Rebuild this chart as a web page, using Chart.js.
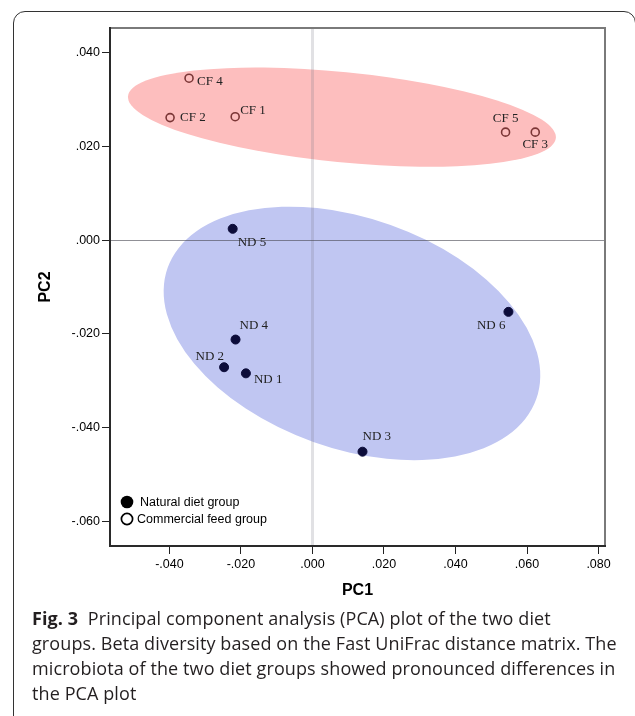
<!DOCTYPE html>
<html>
<head>
<meta charset="utf-8">
<script src="https://cdn.jsdelivr.net/npm/chart.js@4"></script>
<style>
  html, body { margin: 0; padding: 0; background: #fff; }
  body { width: 635px; height: 716px; position: relative; overflow: hidden; }
  #frame { position: absolute; left: 13px; top: 11px; width: 623px; height: 760px;
           border: 1.5px solid #333; border-radius: 12px; box-sizing: border-box; }
  #wrap { position: absolute; left: 0; top: 0; width: 635px; height: 620px; }
  #caption { position: absolute; left: 32px; top: 606px; font-family: "Open Sans", sans-serif;
             font-size: 18px; line-height: 25px; color: #231f20; letter-spacing: 0.1px; }
  #caption div { white-space: nowrap; }
</style>
</head>
<body>
<div id="frame"></div>
<div id="wrap"><canvas id="chart" width="635" height="620"></canvas></div>
<div id="caption">
  <div><b>Fig. 3</b>&nbsp; Principal component analysis (PCA) plot of the two diet</div>
  <div>groups. Beta diversity based on the Fast UniFrac distance matrix. The</div>
  <div>microbiota of the two diet groups showed pronounced differences in</div>
  <div>the PCA plot</div>
</div>
<script>
// sample scores
const ndLabels = ['ND 1', 'ND 2', 'ND 3', 'ND 4', 'ND 5', 'ND 6'];
const ndPC1 = [-0.0186, -0.0247, 0.0140, -0.0215, -0.0223, 0.0548];
const ndPC2 = [-0.0284, -0.0271, -0.0451, -0.0212, 0.0024, -0.0153];

const cfLabels = ['CF 1', 'CF 2', 'CF 3', 'CF 4', 'CF 5'];
const cfPC1 = [-0.0216, -0.0398, 0.0623, -0.0345, 0.0540];
const cfPC2 = [0.0263, 0.0261, 0.0230, 0.0345, 0.0230];

const xTicks = [-0.04, -0.02, 0, 0.02, 0.04, 0.06, 0.08];
const yTicks = [-0.06, -0.04, -0.02, 0, 0.02, 0.04];

// group ellipses (data units, angle in degrees)
const ndEllipse = { cx: 0.01105, cy: -0.0199, rx: 0.0547, ry: 0.02454, angle: 19.6 };
const cfEllipse = { cx: 0.00825, cy: 0.0262, rx: 0.0601, ry: 0.00962, angle: 5.6 };

// where each label sits next to its point
const ndPlace = [[8, 6, 'left'], [0, -11, 'right'], [0, -15, 'left'], [4, -14, 'left'], [5, 14, 'left'], [-3, 14, 'right']];
const cfPlace = [[5, -6, 'left'], [10, 0, 'left'], [0, 12, 'center'], [8, 3, 'left'], [0, -14, 'center']];

const fmt = v => (v < 0 ? '-' : '') + Math.abs(v).toFixed(3).replace(/^0/, '');

const toPoints = (xs, ys) => xs.map((x, i) => ({ x: x, y: ys[i] }));

const ellipsePlugin = {
  id: 'ellipses',
  beforeDatasetsDraw(chart) {
    const { ctx, chartArea, scales: { x, y } } = chart;
    const pxX = Math.abs(x.getPixelForValue(1) - x.getPixelForValue(0));
    const pxY = Math.abs(y.getPixelForValue(1) - y.getPixelForValue(0));
    ctx.save();
    ctx.beginPath();
    ctx.rect(chartArea.left, chartArea.top, chartArea.width, chartArea.height);
    ctx.clip();
    [[cfEllipse, '#fdbebe'], [ndEllipse, '#c0c6f2']].forEach(([e, col]) => {
      ctx.beginPath();
      ctx.ellipse(x.getPixelForValue(e.cx), y.getPixelForValue(e.cy), e.rx * pxX, e.ry * pxY,
        e.angle * Math.PI / 180, 0, Math.PI * 2);
      ctx.fillStyle = col;
      ctx.fill();
    });
    // reference lines through the origin
    const x0 = Math.round(x.getPixelForValue(0)) + 0.5;
    const y0 = Math.round(y.getPixelForValue(0)) + 0.5;
    ctx.strokeStyle = 'rgba(120,120,130,0.22)';
    ctx.lineWidth = 3;
    ctx.beginPath();
    ctx.moveTo(x0, chartArea.top);
    ctx.lineTo(x0, chartArea.bottom);
    ctx.stroke();
    ctx.strokeStyle = 'rgba(70,70,80,0.6)';
    ctx.lineWidth = 1;
    ctx.beginPath();
    ctx.moveTo(chartArea.left, y0);
    ctx.lineTo(chartArea.right, y0);
    ctx.stroke();
    ctx.restore();
  },
  afterDraw(chart) {
    const { ctx, chartArea: a } = chart;
    ctx.save();
    // plot frame
    ctx.lineWidth = 2;
    ctx.strokeStyle = '#7a7a7a';
    ctx.beginPath();
    ctx.moveTo(a.left, a.top);
    ctx.lineTo(a.right, a.top);
    ctx.lineTo(a.right, a.bottom);
    ctx.stroke();
    ctx.strokeStyle = '#2a2a2a';
    ctx.beginPath();
    ctx.moveTo(a.left, a.top - 1);
    ctx.lineTo(a.left, a.bottom);
    ctx.lineTo(a.right + 1, a.bottom);
    ctx.stroke();

    // point labels
    ctx.font = '13px "Liberation Serif", serif';
    ctx.fillStyle = '#222';
    ctx.textBaseline = 'middle';
    const places = [ndPlace, cfPlace];
    chart.data.datasets.forEach((ds, di) => {
      chart.getDatasetMeta(di).data.forEach((pt, i) => {
        const p = places[di][i];
        ctx.textAlign = p[2];
        ctx.fillText(ds.names[i], pt.x + p[0], pt.y + p[1]);
      });
    });

    // legend
    ctx.font = '12.5px "Liberation Sans", Arial, sans-serif';
    ctx.fillStyle = '#000';
    ctx.textAlign = 'left';
    const lx = a.left + 17, ly = a.bottom - 44;
    ctx.beginPath();
    ctx.arc(lx, ly, 6.3, 0, Math.PI * 2);
    ctx.fill();
    ctx.fillText(chart.data.datasets[0].label, lx + 13, ly + 1);
    ctx.beginPath();
    ctx.arc(lx, ly + 17, 5.6, 0, Math.PI * 2);
    ctx.lineWidth = 1.7;
    ctx.strokeStyle = '#000';
    ctx.stroke();
    ctx.fillText(chart.data.datasets[1].label, lx + 10, ly + 18);
    ctx.restore();
  }
};

const tickFont = { family: '"Liberation Sans", Arial, sans-serif', size: 12.5 };
const titleFont = { family: '"Liberation Sans", Arial, sans-serif', size: 16, weight: 'bold' };

new Chart(document.getElementById('chart'), {
  type: 'scatter',
  data: {
    datasets: [
      {
        label: 'Natural diet group',
        names: ndLabels,
        data: toPoints(ndPC1, ndPC2),
        pointRadius: 4.5,
        backgroundColor: '#0c0c3a',
        borderColor: '#0c0c3a',
        borderWidth: 1
      },
      {
        label: 'Commercial feed group',
        names: cfLabels,
        data: toPoints(cfPC1, cfPC2),
        pointRadius: 4,
        backgroundColor: 'rgba(0,0,0,0)',
        borderColor: '#7b3636',
        borderWidth: 1.6
      }
    ]
  },
  options: {
    responsive: false,
    animation: false,
    layout: { padding: { left: 0, top: 28, right: 30, bottom: 0 } },
    plugins: { legend: { display: false }, tooltip: { enabled: false } },
    scales: {
      x: {
        min: -0.0566, max: 0.0818,
        afterBuildTicks: s => { s.ticks = xTicks.map(v => ({ value: v })); },
        afterFit: s => { s.height = 74; },
        ticks: { callback: fmt, color: '#000', font: tickFont, padding: 3, maxRotation: 0 },
        grid: { drawOnChartArea: false, drawTicks: true, tickLength: 8, tickColor: '#222' },
        border: { display: false },
        title: { display: true, text: 'PC1', color: '#000', font: titleFont, padding: { top: 0, bottom: 20 } }
      },
      y: {
        min: -0.0652, max: 0.0452,
        afterBuildTicks: s => { s.ticks = yTicks.map(v => ({ value: v })); },
        afterFit: s => { s.width = 110; },
        ticks: { callback: fmt, color: '#000', font: tickFont, padding: 2 },
        grid: { drawOnChartArea: false, drawTicks: true, tickLength: 8, tickColor: '#222' },
        border: { display: false },
        title: { display: true, text: 'PC2', color: '#000', font: titleFont, padding: { top: 36, bottom: 0 } }
      }
    }
  },
  plugins: [ellipsePlugin]
});
</script>
</body>
</html>
